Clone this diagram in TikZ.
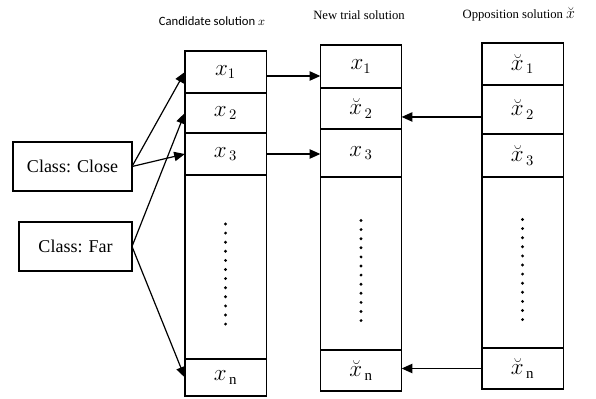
\documentclass[tikz,border=0pt]{standalone}
\usepackage{fontspec}
\setmainfont{Liberation Serif}
\newfontfamily\carlito{Carlito}
\usetikzlibrary{positioning,arrows.meta}

\begin{document}
\begin{tikzpicture}[x=0.75pt, y=-0.75pt, line width=1pt,
    cell/.style = {draw, rectangle, minimum width=61pt, inner sep=0pt, outer sep=0pt, font=\fontsize{16}{16}\selectfont},
    cls/.style = {draw, rectangle, minimum height=36.75pt, inner sep=0pt, outer sep=0pt, font=\fontsize{13.5}{14}\selectfont},
    ttl/.style = {inner sep=0pt, font=\fontsize{9.5}{10}\selectfont},
    arr/.style = {-{Triangle[length=8pt,width=7pt]}, line width=0.9pt}]
    \useasboundingbox (0,0) rectangle (596,399);
    % titles
    \node[ttl, font=\carlito\fontsize{9.5}{10}\selectfont] (candttl) at (212,21) {Candidate solution $x$};
    \node[ttl] (trialttl) at (359,15) {New trial solution};
    \node[ttl, anchor=base west] (oppttl) at (462,19) {Opposition solution {\fontsize{13}{13}\selectfont$\breve{x}$}};
    % classes
    \node[cls, minimum width=89.25pt] (close) at (72.5,166.5) {Class: Close};
    \node[cls, minimum width=84.75pt] (far) at (75.5,246.5) {Class: Far};
    % candidate solution
    \node[cell, minimum height=31.5pt] (c1) at (225.5,72) {$x_1$};
    \node[cell, minimum height=30pt] (c2) [below=0pt of c1] {$x_{\,2}$};
    \node[cell, minimum height=31.5pt] (c3) [below=0pt of c2] {$x_{\,3}$};
    \node[cell, minimum height=138pt] (cd) [below=0pt of c3] {};
    \node[cell, minimum height=27.75pt] (cn) [below=0pt of cd] {$x_{\,\mathrm{n}}$};
    % new trial solution
    \node[cell, minimum height=32.25pt] (t1) at (361,66.5) {$x_1$};
    \node[cell, minimum height=30.75pt] (t2) [below=0pt of t1] {$\breve{x}_{\,2}$};
    \node[cell, minimum height=36pt] (t3) [below=0pt of t2] {$x_{\,3}$};
    \node[cell, minimum height=129.75pt] (td) [below=0pt of t3] {};
    \node[cell, minimum height=30.75pt] (tn) [below=0pt of td] {$\breve{x}_{\,\mathrm{n}}$};
    % opposition solution
    \node[cell, minimum height=31.5pt] (o1) at (522.5,64) {$\breve{x}_{\,1}$};
    \node[cell, minimum height=36.75pt] (o2) [below=0pt of o1] {$\breve{x}_{\,2}$};
    \node[cell, minimum height=32.25pt] (o3) [below=0pt of o2] {$\breve{x}_{\,3}$};
    \node[cell, minimum height=128.25pt] (od) [below=0pt of o3] {};
    \node[cell, minimum height=30.75pt] (on) [below=0pt of od] {$\breve{x}_{\,\mathrm{n}}$};
    % dots
    \foreach \d in {cd,td,od}
        \foreach \k in {0,...,11}
            \fill (\d.center) ++(0,{-43+\k*9.1}) circle (1.2pt);
    % arrows
    \draw[arr] (close.east) -- (c1.west);
    \draw[arr] (close.east) -- (c3.west);
    \draw[arr] (far.east) -- (c2.west);
    \draw[arr] (far.east) -- (cn.west);
    \draw[arr] ([yshift=-3pt]c1.east) -- ([yshift=-3pt]c1.east -| t1.west);
    \draw[arr] (c3.east) -- (c3.east -| t3.west);
    \draw[arr] ([yshift=-5.6pt]o2.west) -- ([yshift=-5.6pt]o2.west -| t2.east);
    \draw[arr] (on.west) -- (on.west -| tn.east);
\end{tikzpicture}
\end{document}
